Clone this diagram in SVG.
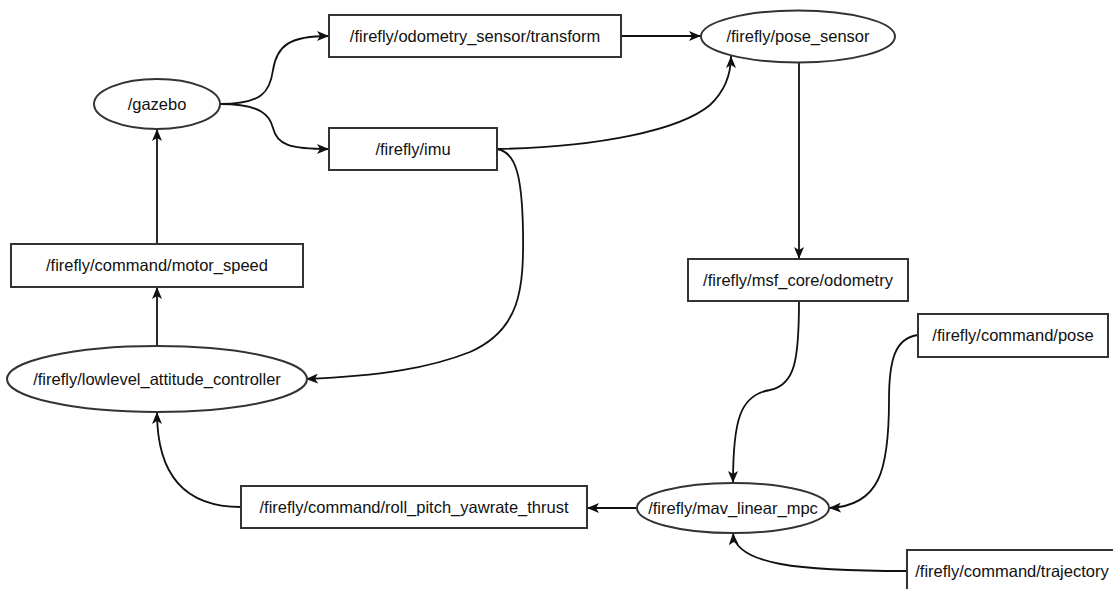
<svg xmlns="http://www.w3.org/2000/svg" width="1113" height="589" viewBox="0 0 1113 589">
<style>
.n rect, .n ellipse { fill: #fff; stroke: #333; stroke-width: 2; }
.n text { font-family: "Liberation Sans", Arial, sans-serif; font-size: 16.5px; fill: #111; text-anchor: middle; }
.e path { fill: none; stroke: #111; stroke-width: 1.8; marker-end: url(#arr); }
</style>
<defs>
<marker id="arr" markerUnits="userSpaceOnUse" viewBox="0 0 12 10" refX="12" refY="5" markerWidth="12" markerHeight="10" orient="auto">
<path d="M0,0 L12,5 L0,10 L3,5 Z" fill="#111"/>
</marker>
</defs>
<rect width="1113" height="589" fill="#fff"/>
<g class="e" id="connectors">
<path d="M220,104 C262,104 270,92 273,70 C277,45 290,36 329,36"/>
<path d="M220,104 C262,104 270,116 273,128 C277,145 290,149 329,149"/>
<path d="M621,36 L701,36"/>
<path d="M497,149 C600,147 680,130 710,105 C726,90 731,72 731,56"/>
<path d="M497,149 C517,152 522,180 523,230 C524,290 520,330 470,352 C430,368 380,376 306,379"/>
<path d="M799,63 L799,259"/>
<path d="M799,301 C799,360 795,385 770,390 C740,395 733,420 733,483"/>
<path d="M918,335 C895,338 889,360 889,400 C889,470 880,506 829,508"/>
<path d="M907,571 C800,571 735,565 733,533"/>
<path d="M637,508 L587,508"/>
<path d="M241,507 C180,507 157,470 157,412"/>
<path d="M157,346 L157,287"/>
<path d="M157,244 L157,129"/>
</g>
<g class="n" id="gazebo"><ellipse cx="157" cy="104" rx="63" ry="25"/><text x="157" y="109.5">/gazebo</text></g>
<g class="n" id="odometry_transform"><rect x="329" y="15" width="292" height="42"/><text x="475" y="41.5">/firefly/odometry_sensor/transform</text></g>
<g class="n" id="imu"><rect x="329" y="128" width="168" height="42"/><text x="413" y="154.5">/firefly/imu</text></g>
<g class="n" id="pose_sensor"><ellipse cx="798" cy="36.5" rx="97" ry="26"/><text x="798" y="42">/firefly/pose_sensor</text></g>
<g class="n" id="msf_odometry"><rect x="688" y="259" width="220" height="42"/><text x="798" y="285.5">/firefly/msf_core/odometry</text></g>
<g class="n" id="command_pose"><rect x="918" y="314" width="190" height="43"/><text x="1013" y="341">/firefly/command/pose</text></g>
<g class="n" id="mav_linear_mpc"><ellipse cx="733" cy="508" rx="96" ry="25"/><text x="733" y="513.5">/firefly/mav_linear_mpc</text></g>
<g class="n" id="roll_pitch_yawrate_thrust"><rect x="241" y="486" width="346" height="42"/><text x="414" y="512.5">/firefly/command/roll_pitch_yawrate_thrust</text></g>
<g class="n" id="command_trajectory"><rect x="907" y="550" width="234" height="42"/><text x="1012" y="576.5">/firefly/command/trajectory</text></g>
<g class="n" id="motor_speed"><rect x="11" y="244" width="292" height="43"/><text x="157" y="271">/firefly/command/motor_speed</text></g>
<g class="n" id="lowlevel_attitude_controller"><ellipse cx="157" cy="379" rx="150" ry="33"/><text x="157" y="384.5">/firefly/lowlevel_attitude_controller</text></g>
</svg>
